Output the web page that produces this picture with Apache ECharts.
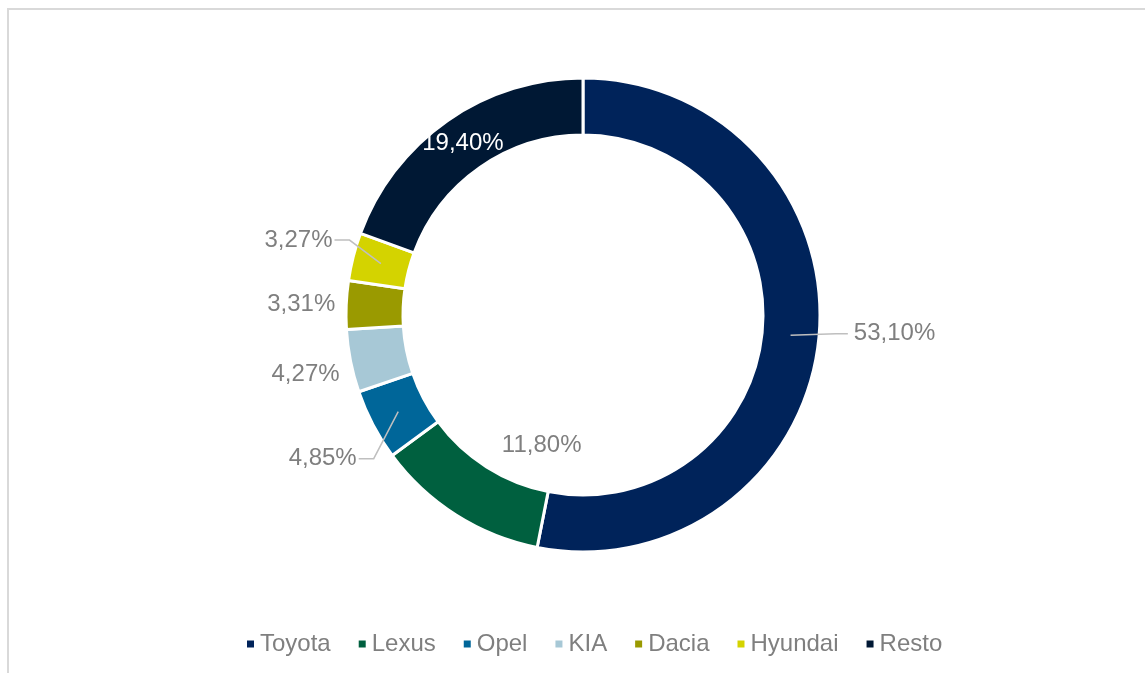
<!DOCTYPE html>
<html>
<head>
<meta charset="utf-8">
<script src="https://cdn.jsdelivr.net/npm/echarts@6/dist/echarts.min.js"></script>
<style>
  html, body { margin: 0; padding: 0; background: #fff; }
  #main { width: 1145px; height: 673px; }
</style>
</head>
<body>
<div id="main"></div>
<script>
// marcas y cuota (%)
var brands = ['Toyota', 'Lexus', 'Opel', 'KIA', 'Dacia', 'Hyundai', 'Resto'];
var shares = [53.10, 11.80, 4.85, 4.27, 3.31, 3.27, 19.40];
var colors = ['#00235A', '#00603F', '#006699', '#A7C8D6', '#9A9A00', '#D4D300', '#001834'];

var CX = 583, CY = 315;

var chart = echarts.init(document.getElementById('main'));

function fmt(v) {
  return v.toFixed(2).replace('.', ',') + '%';
}

// anillo con los colores
var ringData = brands.map(function (b, i) {
  return { name: b, value: shares[i], itemStyle: { color: colors[i] } };
});

// capa transparente encima, solo para etiquetas y líneas guía
var labelData = brands.map(function (b, i) {
  var item = { name: b, value: shares[i] };
  if (b == 'Resto') {
    item.label = { position: 'inside', color: '#fff' };
  }
  if (b == 'Lexus') {
    item.label = { position: 'inside', color: '#7F7F7F' };
  }
  if (b == 'Toyota') {
    item.labelLine = { length: 6, length2: 24 };
  }
  if (b == 'KIA' || b == 'Dacia') {
    item.labelLine = { show: false, length: 2, length2: 4 };
  }
  return item;
});

// ajustes finos de las etiquetas (como las pone Excel)
var nudges = {
  0: { dx: 0, dy: -5 },
  1: { dx: 72, dy: -48 },
  2: { dx: 6, dy: 31 },
  3: { dx: 0, dy: 13 },
  5: { dx: 2, dy: -15 },
  6: { dx: 1, dy: 2 }
};

var option = {
  animation: false,
  graphic: [{
    type: 'rect',
    shape: { x: 8, y: 9, width: 1150, height: 700 },
    style: { fill: 'none', stroke: '#D9D9D9', lineWidth: 2 },
    silent: true
  }],
  legend: {
    bottom: 12,
    left: 240,
    icon: 'rect',
    itemWidth: 9,
    itemHeight: 9,
    itemGap: 26,
    textStyle: { fontFamily: 'Liberation Sans, Arial', fontSize: 24, color: '#7F7F7F' },
    data: brands.map(function (b, i) {
      return { name: b, itemStyle: { color: colors[i] } };
    })
  },
  series: [{
    type: 'pie',
    center: [CX, CY],
    radius: [180, 237],
    startAngle: 90,
    clockwise: true,
    itemStyle: { borderColor: '#fff', borderWidth: 3 },
    label: { show: false },
    labelLine: { show: false },
    data: ringData
  }, {
    type: 'pie',
    z: 5,
    silent: true,
    center: [CX, CY],
    radius: [180, 237],
    startAngle: 90,
    clockwise: true,
    avoidLabelOverlap: false,
    itemStyle: { color: 'rgba(0,0,0,0)', borderWidth: 0 },
    label: {
      show: true,
      position: 'outside',
      formatter: function (p) { return fmt(p.value); },
      fontFamily: 'Liberation Sans, Arial',
      fontSize: 24,
      color: '#7F7F7F'
    },
    labelLine: {
      show: true,
      length: 6,
      length2: 12,
      lineStyle: { color: '#BFBFBF', width: 1.5 }
    },
    labelLayout: function (p) {
      var n = nudges[p.dataIndex] || { dx: 0, dy: 0 };
      var res = { dx: n.dx, dy: n.dy };
      var pts = p.labelLinePoints;
      if (pts && (p.dataIndex === 0 || p.dataIndex === 2 || p.dataIndex === 5)) {
        // la línea arranca dentro del anillo, como en Excel
        var k = 0.88;
        var s = [CX + (pts[0][0] - CX) * k, CY + (pts[0][1] - CY) * k];
        var r = p.labelRect;
        var ym = r.y + r.height / 2 + n.dy;
        var end, elbow;
        if (p.dataIndex === 0) {
          end = [r.x + n.dx - 6, ym];
          elbow = [end[0] - 12, ym];
        } else {
          end = [r.x + r.width + n.dx + 2, ym];
          elbow = [end[0] + 15, ym];
        }
        res.labelLinePoints = [s, elbow, end];
      }
      return res;
    },
    data: labelData
  }]
};
chart.setOption(option);
</script>
</body>
</html>
